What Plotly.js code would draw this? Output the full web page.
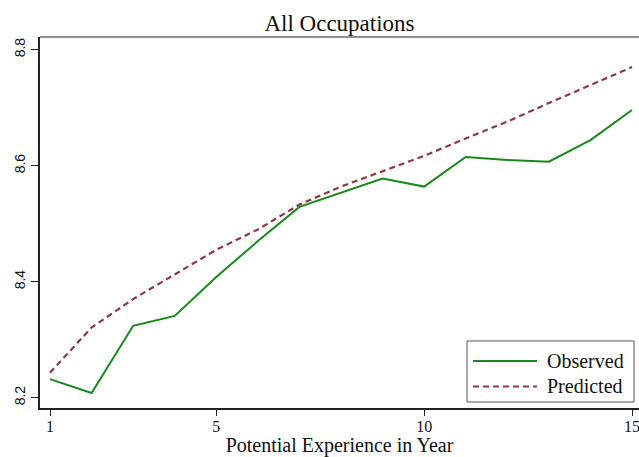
<!DOCTYPE html>
<html>
<head>
<meta charset="utf-8">
<script src="https://cdn.plot.ly/plotly-3.0.1.min.js"></script>
<style>html,body{margin:0;padding:0;background:#fff;}#chart{width:639px;height:457px;}</style>
</head>
<body>
<div id="chart"></div>
<script>
const experience = [1,2,3,4,5,6,7,8,9,10,11,12,13,14,15];
const observed = [8.232,8.208,8.324,8.341,8.408,8.470,8.529,8.554,8.578,8.564,8.615,8.610,8.607,8.644,8.696];
const predicted = [8.243,8.321,8.370,8.412,8.455,8.490,8.533,8.564,8.590,8.617,8.647,8.676,8.708,8.739,8.770];
const xTicks = [1,5,10,15];
const yTicks = [8.2,8.4,8.6,8.8];
const seriesNames = ["Observed","Predicted"];

const serif = "Liberation Serif, Times New Roman, serif";
const sans = "Liberation Sans, Arial, sans-serif";
const greenC = "#178a17";
const maroonC = "#8f3a40";

const traces = [
  {x: experience, y: observed, name: seriesNames[0], type: "scatter", mode: "lines",
   line: {color: greenC, width: 2}, showlegend: false, hoverinfo: "skip"},
  {x: experience, y: predicted, name: seriesNames[1], type: "scatter", mode: "lines",
   line: {color: maroonC, width: 2.2, dash: "6px,4px"}, showlegend: false, hoverinfo: "skip"}
];

// legend geometry (paper coords)
const lg = {x0: 0.7129, x1: 0.9917, y0: 0.0162, y1: 0.1806};
const rows = [0.1267, 0.058];

const shapes = [
  {type: "line", xref: "paper", yref: "paper", x0: 0, x1: 1, y0: 1, y1: 1,
   line: {color: "#6a6a6a", width: 1.5}},
  {type: "rect", xref: "paper", yref: "paper", x0: lg.x0, x1: lg.x1, y0: lg.y0, y1: lg.y1,
   line: {color: "#555", width: 1}, fillcolor: "#fff"},
  {type: "line", xref: "paper", yref: "paper", x0: 0.7229, x1: 0.8297, y0: rows[0], y1: rows[0],
   line: {color: greenC, width: 2}},
  {type: "line", xref: "paper", yref: "paper", x0: 0.7229, x1: 0.8297, y0: rows[1], y1: rows[1],
   line: {color: maroonC, width: 2.2, dash: "6px,4px"}}
];

const annotations = seriesNames.map((n, i) => ({
  xref: "paper", yref: "paper", x: 0.8430, y: rows[i], xanchor: "left", yanchor: "middle",
  text: n, showarrow: false, font: {family: serif, size: 20, color: "#111"}
}));

const layout = {
  width: 639, height: 457,
  margin: {l: 40, r: 0, t: 37, b: 49, pad: 0},
  paper_bgcolor: "#fff", plot_bgcolor: "#fff",
  title: {text: "All Occupations", x: 0.5, xref: "paper", y: 1 - 23/457, yref: "container",
          xanchor: "center", yanchor: "middle", font: {family: serif, size: 23, color: "#111"}},
  xaxis: {range: [0.7594, 15.168], tickvals: xTicks, ticktext: xTicks.map(String),
          ticks: "outside", ticklen: 6, tickwidth: 1, tickcolor: "#222",
          ticklabeloverflow: "allow", ticklabelstandoff: -3,
          showgrid: false, zeroline: false, showline: true, linecolor: "#222", linewidth: 2,
          tickfont: {family: serif, size: 16, color: "#111"},
          title: {text: "Potential Experience in Year", font: {family: serif, size: 20, color: "#111"}, standoff: 5}},
  yaxis: {range: [8.1822, 8.8219], tickvals: yTicks, ticktext: yTicks.map(v => v.toFixed(1)),
          ticks: "outside", ticklen: 7, tickwidth: 1, tickcolor: "#222", tickangle: -90,
          showgrid: false, zeroline: false, showline: true, linecolor: "#222", linewidth: 2,
          tickfont: {family: sans, size: 14, color: "#111"}},
  shapes: shapes,
  annotations: annotations,
  showlegend: false
};

Plotly.newPlot("chart", traces, layout, {displayModeBar: false, staticPlot: true});
</script>
</body>
</html>
